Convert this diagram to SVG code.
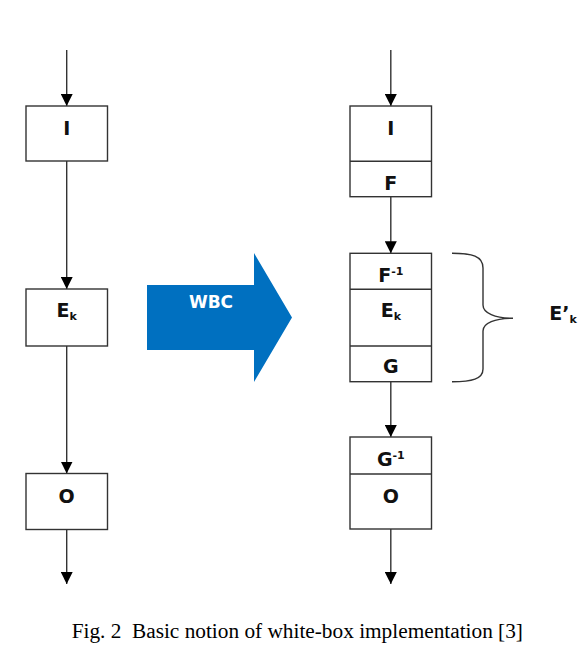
<svg xmlns="http://www.w3.org/2000/svg" width="587" height="661" viewBox="0 0 587 661">
<style>
.box{fill:#fff;stroke:#333;stroke-width:1.4}
.div{stroke:#333;stroke-width:1.4}
.ln{stroke:#333;stroke-width:1.4;fill:none}
.lbl{font-family:"DejaVu Sans",Verdana,sans-serif;font-weight:bold;font-size:19px;fill:#111;text-anchor:middle}
.sub{font-size:11px}
.cap{font-family:"Liberation Serif","Times New Roman",serif;font-size:21.3px;fill:#000;text-anchor:middle;white-space:pre}
</style>
<defs>
<marker id="ah" viewBox="0 0 12 12" refX="12" refY="6" markerWidth="12" markerHeight="12" markerUnits="userSpaceOnUse" orient="auto">
<path d="M0,0 L12,6 L0,12 z" fill="#000"/>
</marker>
</defs>
<rect width="587" height="661" fill="#fff"/>
<g id="connectors">
<line class="ln" x1="66.7" y1="50" x2="66.7" y2="106" marker-end="url(#ah)"/>
<line class="ln" x1="66.7" y1="161" x2="66.7" y2="289" marker-end="url(#ah)"/>
<line class="ln" x1="66.7" y1="346" x2="66.7" y2="473.5" marker-end="url(#ah)"/>
<line class="ln" x1="66.7" y1="529.5" x2="66.7" y2="584" marker-end="url(#ah)"/>
<line class="ln" x1="390.8" y1="50" x2="390.8" y2="106" marker-end="url(#ah)"/>
<line class="ln" x1="390.8" y1="196.7" x2="390.8" y2="253.3" marker-end="url(#ah)"/>
<line class="ln" x1="390.8" y1="381.7" x2="390.8" y2="437" marker-end="url(#ah)"/>
<line class="ln" x1="390.8" y1="529" x2="390.8" y2="584" marker-end="url(#ah)"/>
</g>
<g id="node-I-left">
<rect class="box" x="26" y="106" width="81.5" height="55"/>
<text class="lbl" x="66.7" y="135">I</text>
</g>
<g id="node-Ek-left">
<rect class="box" x="26" y="289" width="81.5" height="57"/>
<text class="lbl" x="66.7" y="317">E<tspan class="sub" dy="3">k</tspan></text>
</g>
<g id="node-O-left">
<rect class="box" x="26" y="473.5" width="81.5" height="56"/>
<text class="lbl" x="66.7" y="502.5">O</text>
</g>
<g id="wbc-arrow">
<polygon points="147,285 254,285 254,253 292,317.5 254,382 254,350 147,350" fill="#0070C0"/>
<text x="211" y="307.5" style="font-family:'DejaVu Sans',Verdana,sans-serif;font-weight:bold;font-size:17px;fill:#fff;text-anchor:middle">WBC</text>
</g>
<g id="node-IF-right">
<rect class="box" x="350" y="106" width="81.5" height="90.7"/>
<line class="div" x1="350" y1="161.3" x2="431.5" y2="161.3"/>
<text class="lbl" x="390.8" y="135">I</text>
<text class="lbl" x="390.8" y="190">F</text>
</g>
<g id="node-Eprime-right">
<rect class="box" x="350" y="253.3" width="81.5" height="128.4"/>
<line class="div" x1="350" y1="289.3" x2="431.5" y2="289.3"/>
<line class="div" x1="350" y1="346" x2="431.5" y2="346"/>
<text class="lbl" x="390.8" y="282">F<tspan class="sub" dy="-7">-1</tspan></text>
<text class="lbl" x="390.8" y="316.7">E<tspan class="sub" dy="3">k</tspan></text>
<text class="lbl" x="390.8" y="373">G</text>
</g>
<g id="node-GO-right">
<rect class="box" x="350" y="437" width="81.5" height="92"/>
<line class="div" x1="350" y1="474" x2="431.5" y2="474"/>
<text class="lbl" x="390.8" y="465.5">G<tspan class="sub" dy="-7">-1</tspan></text>
<text class="lbl" x="390.8" y="502.5">O</text>
</g>
<g id="brace">
<path class="ln" d="M452,253.3 C472,253.3 483,256 483,268 L483,305 C483,313 495,318.3 513,318.3 C495,318.3 483,323 483,331 L483,369 C483,379 472,381.7 452,381.7" stroke-width="1.2"/>
<text class="lbl" x="563" y="320">E’<tspan class="sub" dy="3">k</tspan></text>
</g>
<text class="cap" x="297.3" y="638">Fig. 2  Basic notion of white-box implementation [3]</text>
</svg>
